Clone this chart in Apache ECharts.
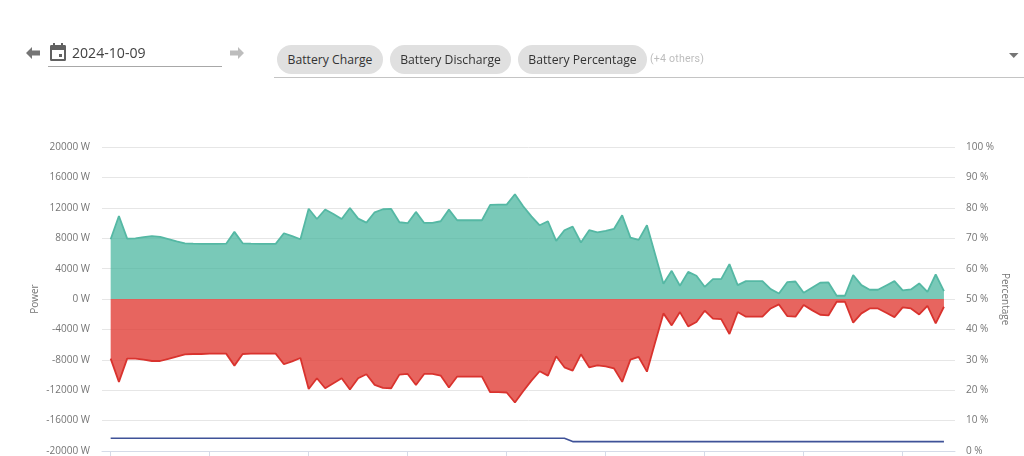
<!DOCTYPE html>
<html><head><meta charset="utf-8">
<script src="https://cdn.jsdelivr.net/npm/echarts@6/dist/echarts.min.js"></script>
<style>
html,body{margin:0;padding:0;background:#fff;width:1024px;height:456px;overflow:hidden;font-family:"Open Sans",sans-serif}
#chart{position:absolute;left:0;top:0;width:1024px;height:456px}
.h{position:absolute;white-space:nowrap}
.chip{position:absolute;top:45px;height:29px;line-height:29px;border-radius:15px;background:#e0e0e0;color:#333;font-size:12.2px;text-align:center}
</style></head><body>
<div id="chart"></div>
<svg class="h" style="left:25px;top:46px" width="16" height="14" viewBox="0 0 16 14"><path d="M1 7l6-6v3.5h8v5H7V13z" fill="#757575"/></svg>
<svg class="h" style="left:49px;top:42px" width="18" height="20" viewBox="0 0 18 20"><path d="M4 1h2v2h6V1h2v2h2a1.5 1.5 0 0 1 1 1.5v13a1.5 1.5 0 0 1-1 1.5H2a1.5 1.5 0 0 1-1-1.5v-13A1.5 1.5 0 0 1 2 3h2zM3 8v9h12V8zm7 4h3v3h-3z" fill="#616161" fill-rule="evenodd"/></svg>
<div class="h" style="left:72px;top:42.5px;font-size:14.1px;line-height:20px;color:#424242">2024-10-09</div>
<div class="h" style="left:48px;top:66px;width:174px;height:1px;background:#a8a8a8"></div>
<svg class="h" style="left:229px;top:46px" width="16" height="14" viewBox="0 0 16 14"><path d="M15 7L9 1v3.5H1v5h8V13z" fill="#bdbdbd"/></svg>
<div class="chip" style="left:277px;width:106px">Battery Charge</div>
<div class="chip" style="left:390px;width:121px">Battery Discharge</div>
<div class="chip" style="left:518px;width:129px">Battery Percentage</div>
<div class="h" style="left:650px;top:51px;font-size:10.6px;line-height:16px;color:#bdbdbd;font-family:Roboto,sans-serif;letter-spacing:.2px">(+4 others)</div>
<svg class="h" style="left:1009px;top:53px" width="10" height="6"><path d="M0 0h9.5L4.75 5z" fill="#757575"/></svg>
<div class="h" style="left:274px;top:76.5px;width:750px;height:1.5px;background:#c4c4c4"></div>
<script>
const batteryCharge = [7884,10950,7970,8000,8150,8280,8190,7900,7600,7350,7300,7270,7270,7270,7300,8850,7350,7300,7270,7270,7270,8670,8280,7880,11900,10550,11800,11200,10550,12000,10600,10070,11430,11830,11870,10120,9990,11480,10030,10030,10250,11780,10380,10380,10380,10380,12400,12440,12440,13800,12220,10900,9720,10250,7660,9070,9550,7450,9070,8800,8980,9240,11040,8100,7800,9720,5870,2015,3720,1750,3590,3070,1620,2630,2630,4600,1840,2370,2370,2370,1310,745,2230,2320,830,1490,2150,2190,440,440,3150,1840,1230,1230,1800,2370,1140,1270,2060,960,3240,1050];
const batteryDischarge = [-7840,-10900,-7840,-7840,-7970,-8150,-8150,-7880,-7580,-7270,-7230,-7230,-7180,-7180,-7180,-8760,-7230,-7180,-7180,-7180,-7180,-8580,-8190,-7750,-11830,-10420,-11740,-11080,-10420,-11910,-10420,-9900,-11300,-11700,-11740,-9940,-9855,-11300,-9855,-9855,-10070,-11650,-10200,-10200,-10200,-10200,-12260,-12260,-12300,-13620,-12130,-10730,-9500,-10070,-7530,-8980,-9420,-7270,-8980,-8720,-8850,-9110,-10900,-7970,-7620,-9550,-5690,-1880,-3460,-1710,-3590,-3020,-1530,-2580,-2630,-4600,-1710,-2320,-2320,-2320,-1230,-700,-2230,-2320,-790,-1450,-2060,-2150,-350,-350,-3110,-1880,-1230,-1230,-1800,-2370,-1100,-1230,-2015,-880,-3200,-1010];
const batteryPercentage = [4.2,4.2,4.2,4.2,4.2,4.2,4.2,4.2,4.2,4.2,4.2,4.2,4.2,4.2,4.2,4.2,4.2,4.2,4.2,4.2,4.2,4.2,4.2,4.2,4.2,4.2,4.2,4.2,4.2,4.2,4.2,4.2,4.2,4.2,4.2,4.2,4.2,4.2,4.2,4.2,4.2,4.2,4.2,4.2,4.2,4.2,4.2,4.2,4.2,4.2,4.2,4.2,4.2,4.2,4.2,4.2,3.1,3.1,3.1,3.1,3.1,3.1,3.1,3.1,3.1,3.1,3.1,3.1,3.1,3.1,3.1,3.1,3.1,3.1,3.1,3.1,3.1,3.1,3.1,3.1,3.1,3.1,3.1,3.1,3.1,3.1,3.1,3.1,3.1,3.1,3.1,3.1,3.1,3.1,3.1,3.1,3.1,3.1,3.1,3.1,3.1,3.1];
const hourTicks = [0,12,24,36,48,60,72,84,96];

const withIndex = a => a.map((v,i)=>[i,v]);
const labelStyle = {color:'#757575',fontSize:10,fontFamily:'"Open Sans",sans-serif'};
const nameStyle = {color:'#757575',fontSize:10,fontFamily:'"Open Sans",sans-serif'};
const chart = echarts.init(document.getElementById('chart'),null,{renderer:'canvas'});
chart.setOption({
  animation:false,
  backgroundColor:'transparent',
  grid:{left:102,right:69,top:147.2,bottom:4.5,containLabel:false},
  xAxis:{type:'value',min:-1.05,max:102.34,
    axisLine:{show:true,onZero:false,lineStyle:{color:'#d5dbe8',width:1}},
    axisTick:{show:true,customValues:hourTicks,length:5,lineStyle:{color:'#d5dbe8'}},
    axisLabel:{show:false},splitLine:{show:false},minorTick:{show:false}},
  yAxis:[
    {type:'value',min:-20000,max:20000,interval:4000,name:'Power',nameLocation:'middle',nameGap:62,nameMoveOverlap:false,nameRotate:90,nameTextStyle:nameStyle,
     axisLine:{show:false},axisTick:{show:false},
     axisLabel:Object.assign({margin:12,formatter:v=>v+' W'},labelStyle),
     splitLine:{show:true,lineStyle:{color:'#e6e6e6',width:1}}},
    {type:'value',min:0,max:100,interval:10,name:'Percentage',nameLocation:'middle',nameGap:45,nameMoveOverlap:false,nameRotate:-90,nameTextStyle:nameStyle,
     axisLine:{show:false},axisTick:{show:false},
     axisLabel:Object.assign({margin:11,formatter:v=>v+' %'},labelStyle),
     splitLine:{show:false}}
  ],
  series:[
    {name:'Battery Charge',type:'line',data:withIndex(batteryCharge),showSymbol:false,symbol:'none',
     lineStyle:{color:'#55b8a4',width:1.8},areaStyle:{color:'#45b49c',opacity:.72,origin:0}},
    {name:'Battery Discharge',type:'line',data:withIndex(batteryDischarge),showSymbol:false,symbol:'none',
     lineStyle:{color:'#d9332e',width:1.8},areaStyle:{color:'#e03a32',opacity:.78,origin:0}},
    {name:'Battery Percentage',type:'line',yAxisIndex:1,data:withIndex(batteryPercentage),showSymbol:false,symbol:'none',
     lineStyle:{color:'#3f5298',width:1.6}}
  ]
});
</script>
</body></html>
